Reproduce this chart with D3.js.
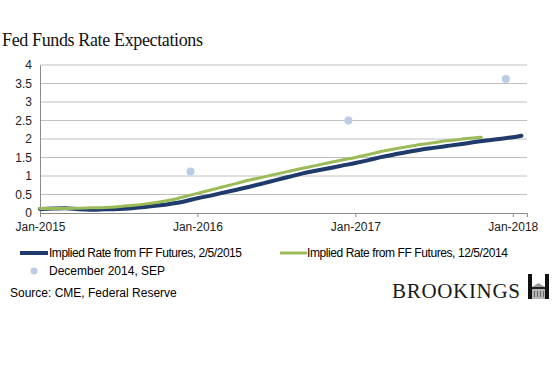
<!DOCTYPE html>
<html>
<head>
<meta charset="utf-8">
<script src="https://cdn.jsdelivr.net/npm/d3@7"></script>
<style>
  body { margin: 0; background: #fff; }
  text { font-family: "Liberation Sans", Arial, sans-serif; }
</style>
</head>
<body>
<div id="chart"></div>
<script>
// month starts, Jan-2015 .. Jan-2018
const months = d3.timeMonth.range(new Date(2015, 0, 1), new Date(2018, 1, 1))

// implied rate from FF futures, 2/5/2015
const rateFeb2015 = [0.11, 0.12, 0.13, 0.10, 0.09, 0.10, 0.11, 0.13, 0.16, 0.20, 0.25, 0.31,
  0.40, 0.47, 0.55, 0.63, 0.71, 0.80, 0.89, 0.98, 1.07, 1.14, 1.21, 1.28,
  1.35, 1.43, 1.51, 1.58, 1.65, 1.71, 1.76, 1.81, 1.86, 1.91, 1.96, 2.00, 2.05]
const tailFeb2015 = { date: new Date(2018, 0, 21), value: 2.09 }

// implied rate from FF futures, 12/5/2014
const rateDec2014 = [0.12, 0.12, 0.12, 0.13, 0.14, 0.15, 0.17, 0.20, 0.24, 0.29, 0.35, 0.44,
  0.53, 0.62, 0.71, 0.80, 0.89, 0.97, 1.05, 1.13, 1.21, 1.28, 1.36, 1.43,
  1.50, 1.58, 1.66, 1.73, 1.79, 1.85, 1.90, 1.95, 1.99, 2.03]
const tailDec2014 = { date: new Date(2017, 9, 20), value: 2.05 }

// December 2014 SEP medians
const sepDates = [new Date(2015, 11, 16), new Date(2016, 11, 16), new Date(2017, 11, 16)]
const sepValues = [1.125, 2.5, 3.625]

const yTicks = [0, 0.5, 1, 1.5, 2, 2.5, 3, 3.5, 4]
const xTicks = [new Date(2015, 0, 1), new Date(2016, 0, 1), new Date(2017, 0, 1), new Date(2018, 0, 1)]

const W = 553, H = 369
const m = { top: 65, right: 26, bottom: 156, left: 40 } // plot box 40..527 x 65..213
const col = { blue: '#1f3b6b', green: '#9bbb59', dot: '#b9cde4', grid: '#c0c0c0', axis: '#8c8c8c' }

const x = d3.scaleTime()
  .domain([new Date(2015, 0, 1), new Date(2018, 1, 3)])
  .range([m.left, W - m.right])
const y = d3.scaleLinear().domain([0, 4]).range([H - m.bottom, m.top])

const svg = d3.select('#chart').append('svg')
  .attr('width', W).attr('height', H)
  .attr('viewBox', [0, 0, W, H])

// title
svg.append('text')
  .attr('x', 2).attr('y', 46)
  .style('font-family', '"Liberation Serif", "DejaVu Serif", serif')
  .style('font-size', '18px')
  .attr('textLength', 201)
  .attr('fill', '#111')
  .text('Fed Funds Rate Expectations')

// gridlines
svg.append('g')
  .selectAll('line')
  .data(yTicks.slice(1))
  .join('line')
  .attr('x1', m.left).attr('x2', W - m.right)
  .attr('y1', d => y(d)).attr('y2', d => y(d))
  .attr('stroke', col.grid).attr('stroke-width', 1)

// y axis
const yAxis = svg.append('g')
  .attr('transform', `translate(${m.left},0)`)
  .call(d3.axisLeft(y).tickValues(yTicks).tickSize(0).tickPadding(8).tickFormat(d3.format('')))
yAxis.select('.domain').attr('stroke', col.axis)
yAxis.selectAll('text').style('font-size', '12px').attr('fill', '#222')

// x axis
const xAxis = svg.append('g')
  .attr('transform', `translate(0,${y(0)})`)
  .call(d3.axisBottom(x).tickValues(xTicks).tickSizeOuter(0).tickSize(4).tickPadding(5)
    .tickFormat(d3.timeFormat('%b-%Y')))
xAxis.select('.domain').attr('stroke', col.axis)
xAxis.selectAll('line').attr('stroke', col.axis)
xAxis.selectAll('text').style('font-size', '12px').attr('fill', '#222')

const line = d3.line()
  .x(d => x(d.date))
  .y(d => y(d.value))
  .curve(d3.curveMonotoneX)

const blueData = months.map((d, i) => ({ date: d, value: rateFeb2015[i] })).concat([tailFeb2015])
const greenData = months.slice(0, rateDec2014.length)
  .map((d, i) => ({ date: d, value: rateDec2014[i] })).concat([tailDec2014])

svg.append('path')
  .datum(blueData)
  .attr('d', line)
  .attr('fill', 'none')
  .attr('stroke', col.blue)
  .attr('stroke-width', 4)
  .attr('stroke-linecap', 'round')

svg.append('path')
  .datum(greenData)
  .attr('d', line)
  .attr('fill', 'none')
  .attr('stroke', col.green)
  .attr('stroke-width', 3)
  .attr('stroke-linecap', 'round')

svg.append('g')
  .selectAll('circle')
  .data(sepDates)
  .join('circle')
  .attr('cx', d => x(d))
  .attr('cy', (d, i) => y(sepValues[i]))
  .attr('r', 4)
  .attr('fill', col.dot)

// legend
const lg = svg.append('g').style('font-size', '12px')
lg.append('line').attr('x1', 20).attr('x2', 48).attr('y1', 253).attr('y2', 253)
  .attr('stroke', col.blue).attr('stroke-width', 4)
lg.append('text').attr('x', 49).attr('y', 257).attr('textLength', 193)
  .text('Implied Rate from FF Futures, 2/5/2015')
lg.append('line').attr('x1', 280).attr('x2', 307).attr('y1', 253).attr('y2', 253)
  .attr('stroke', col.green).attr('stroke-width', 3)
lg.append('text').attr('x', 307).attr('y', 257).attr('textLength', 201)
  .text('Implied Rate from FF Futures, 12/5/2014')
lg.append('circle').attr('cx', 34).attr('cy', 271).attr('r', 3.5).attr('fill', col.dot)
lg.append('text').attr('x', 49).attr('y', 275).text('December 2014, SEP')

// source
svg.append('text')
  .attr('x', 10).attr('y', 297)
  .style('font-size', '12px')
  .text('Source: CME, Federal Reserve')

// brookings mark
svg.append('text')
  .attr('x', 392).attr('y', 298)
  .style('font-family', '"Liberation Serif", serif')
  .style('font-size', '21px')
  .attr('textLength', 128)
  .attr('fill', '#1a1a1a')
  .text('BROOKINGS')

const logo = svg.append('g').attr('transform', 'translate(528,274)')
logo.append('rect').attr('x', 0).attr('y', 0).attr('width', 4).attr('height', 25).attr('fill', '#111')
logo.append('rect').attr('x', 17).attr('y', 0).attr('width', 4).attr('height', 25).attr('fill', '#111')
logo.append('path').attr('d', 'M4,13 L10.5,9 L17,13 Z').attr('fill', '#9a9a9a')
logo.append('rect').attr('x', 4).attr('y', 13).attr('width', 13).attr('height', 2).attr('fill', '#222')
logo.append('rect').attr('x', 4).attr('y', 15).attr('width', 13).attr('height', 10).attr('fill', '#b5b5b5')
logo.selectAll('.col')
  .data([6, 9, 12, 15])
  .join('rect')
  .attr('x', d => d).attr('y', 17).attr('width', 1).attr('height', 6).attr('fill', '#666')
</script>
</body>
</html>
